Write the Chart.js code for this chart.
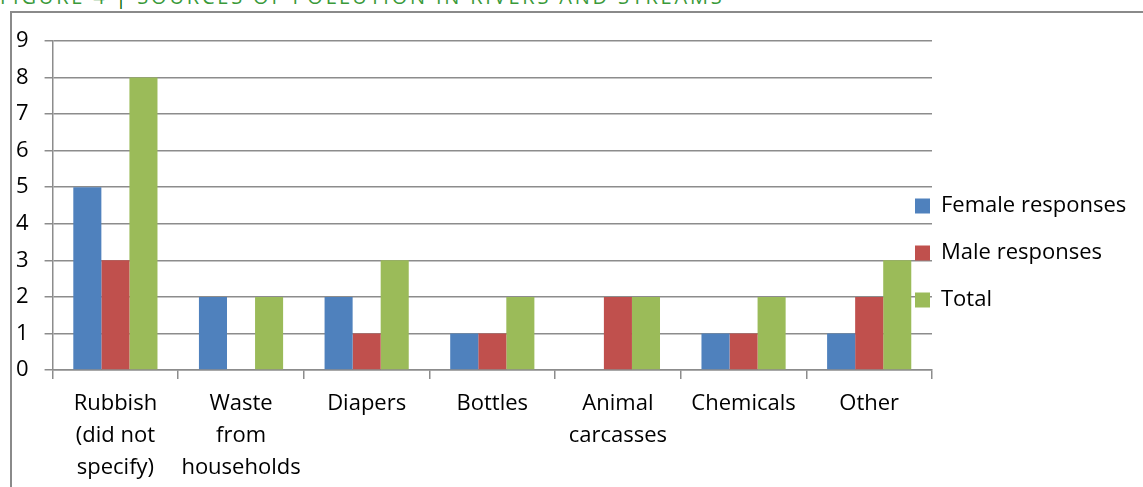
<!DOCTYPE html>
<html>
<head>
<meta charset="utf-8">
<script src="https://cdn.jsdelivr.net/npm/chart.js@4.4.1/dist/chart.umd.min.js"></script>
<style>
  html, body { margin: 0; padding: 0; background: #fff; overflow: hidden; }
  #wrap { position: relative; width: 1143px; height: 487px; overflow: hidden; }
  #title { position: absolute; left: 0; top: -13px; font: 20px "Open Sans", sans-serif; line-height: 20px;
           color: #3a9a3a; letter-spacing: 2.8px; white-space: nowrap; }
  #title b { color: #006b00; font-weight: normal; }
  #frame { position: absolute; left: 10px; top: 11px; width: 1200px; height: 600px;
           border-left: 2px solid #8a8a8a; border-top: 2px solid #8a8a8a; }
  #box { position: absolute; left: 0; top: 0; width: 1143px; height: 487px; }
</style>
</head>
<body>
<div id="wrap">
  <div id="title">FIGURE 4 <b>|</b> SOURCES OF POLLUTION IN RIVERS AND STREAMS</div>
  <div id="frame"></div>
  <div id="box"><canvas id="barChart" width="1143" height="487"></canvas></div>
</div>
<script>
// values
const categories = [
  ["Rubbish", "(did not", "specify)"],
  ["Waste", "from", "households"],
  "Diapers",
  "Bottles",
  ["Animal", "carcasses"],
  "Chemicals",
  "Other"
];
const femaleResponses = [5, 2, 2, 1, 0, 1, 1];
const maleResponses   = [3, 0, 1, 1, 2, 1, 2];
const totalResponses  = [8, 2, 3, 2, 2, 2, 3];
const yTicks = [0, 1, 2, 3, 4, 5, 6, 7, 8, 9];

const FONT = '"Open Sans", sans-serif';
const GRID = '#8c8c8c';

// legend sits partly over the plot like the excel one
const legendShift = {
  id: 'legendShift',
  beforeLayout(chart) {
    const lg = chart.legend;
    if (lg && !lg._patched) {
      const fit = lg.fit;
      lg.fit = function () { fit.call(this); this.width = 211; };
      lg._patched = true;
    }
  },
  afterLayout(chart) {
    const lg = chart.legend;
    lg.left -= 42;
    lg.top -= 14; lg.bottom -= 14;
  }
};

function buildChart() {
  const CHART = document.getElementById('barChart');

  new Chart(CHART, {
    type: 'bar',
    data: {
      labels: categories,
      datasets: [
        { label: 'Female responses', data: femaleResponses, backgroundColor: '#4F81BD' },
        { label: 'Male responses',   data: maleResponses,   backgroundColor: '#C0504D' },
        { label: 'Total',            data: totalResponses,  backgroundColor: '#9BBB59' }
      ]
    },
    options: {
      responsive: false,
      animation: false,
      datasets: { bar: { barPercentage: 1, categoryPercentage: 0.67, borderWidth: 0 } },
      layout: { padding: { left: 0, top: 41, right: 0, bottom: -6 } },
      plugins: {
        tooltip: { enabled: false },
        legend: {
          position: 'right',
          labels: {
            boxWidth: 15, boxHeight: 15, padding: 25,
            color: '#000', font: { family: FONT, size: 22 }
          }
        }
      },
      scales: {
        x: {
          border: { display: true, color: GRID, width: 1.5 },
          grid: { drawOnChartArea: false, drawTicks: true, tickLength: 9, color: GRID, lineWidth: 1.5, offset: true },
          ticks: {
            padding: 9, maxRotation: 0, minRotation: 0, autoSkip: false, color: '#000',
            font: { family: FONT, size: 22, lineHeight: 1.4545 }
          }
        },
        y: {
          min: 0, max: 9,
          border: { display: true, color: GRID, width: 1.5 },
          grid: { color: GRID, lineWidth: 1.5, tickLength: 8 },
          afterBuildTicks: axis => { axis.ticks = yTicks.map(v => ({ value: v })); },
          ticks: { padding: 16, color: '#000', font: { family: FONT, size: 22 } }
        }
      }
    },
    plugins: [legendShift]
  });
}

buildChart();
</script>
</body>
</html>
